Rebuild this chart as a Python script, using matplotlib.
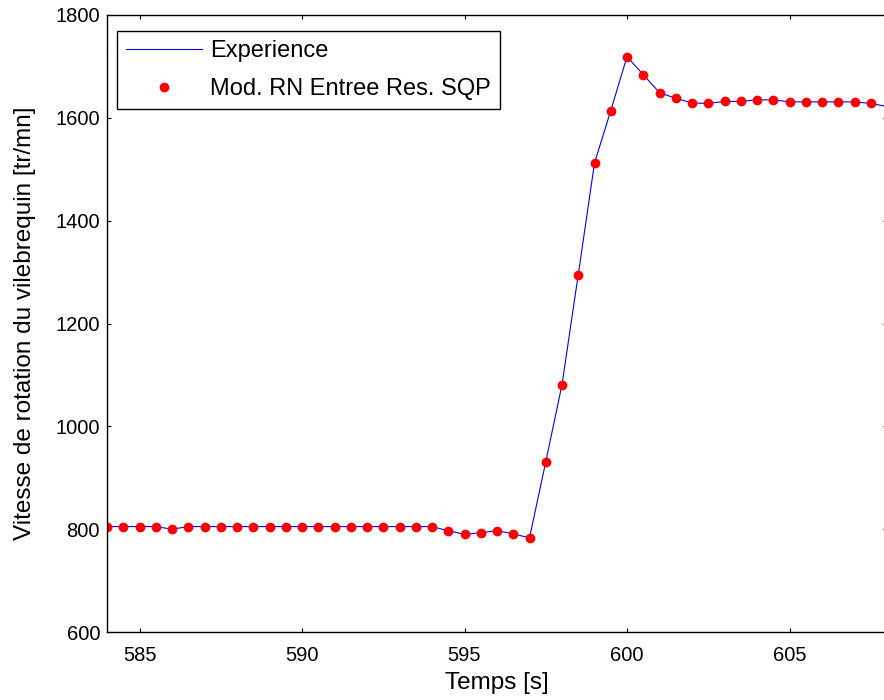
import matplotlib
matplotlib.use("Agg")
import matplotlib.pyplot as plt

plt.rcParams['font.family'] = ['Liberation Sans', 'DejaVu Sans']

# time axis [s], one sample every 0.5 s
temps = [584.0, 584.5, 585.0, 585.5, 586.0, 586.5, 587.0, 587.5, 588.0, 588.5,
         589.0, 589.5, 590.0, 590.5, 591.0, 591.5, 592.0, 592.5, 593.0, 593.5,
         594.0, 594.5, 595.0, 595.5, 596.0, 596.5, 597.0, 597.5, 598.0, 598.5,
         599.0, 599.5, 600.0, 600.5, 601.0, 601.5, 602.0, 602.5, 603.0, 603.5,
         604.0, 604.5, 605.0, 605.5, 606.0, 606.5, 607.0, 607.5]

# modele RN (points rouges)
vitesse_modele = [805, 805, 805, 805, 800, 805, 805, 805, 805, 805,
                  805, 805, 805, 805, 805, 805, 805, 805, 805, 805,
                  805, 797, 790, 793, 797, 791, 783, 931, 1081, 1295,
                  1512, 1614, 1719, 1684, 1649, 1638, 1629, 1628, 1632, 1632,
                  1635, 1635, 1631, 1631, 1631, 1631, 1631, 1628]

# experience (ligne bleue), one more sample past the axis edge
temps_exp = temps + [608.0]
vitesse_exp = vitesse_modele + [1622]

xticks = [585, 590, 595, 600, 605]
yticks = [600, 800, 1000, 1200, 1400, 1600, 1800]

fig = plt.figure(figsize=(8.84, 7.0), dpi=100)
ax = fig.add_axes([107 / 884, 68 / 700, 780 / 884, 617 / 700])

ax.plot(temps_exp, vitesse_exp, color='blue', lw=0.8, label='Experience')
ax.plot(temps, vitesse_modele, 'o', color='red', ms=6, mec='red',
        label='Mod. RN Entree Res. SQP')

ax.set_xlim(584, 608)
ax.set_ylim(600, 1800)
ax.set_xticks(xticks)
ax.set_yticks(yticks)
ax.tick_params(direction='in', length=3, width=0.8, labelsize=14.5,
               top=True, right=True)
ax.tick_params(axis='x', pad=10)
ax.tick_params(axis='y', pad=5)
for sp in ax.spines.values():
    sp.set_linewidth(1.0)

ax.set_xlabel('Temps [s]', fontsize=17.5, labelpad=5)
ax.set_ylabel('Vitesse de rotation du vilebrequin [tr/mn]', fontsize=17.5, labelpad=14)

leg = ax.legend(loc='upper left', bbox_to_anchor=(117 / 884, 1 - 31 / 700),
                bbox_transform=fig.transFigure, borderaxespad=0,
                fancybox=False, edgecolor='black', fontsize=17,
                handlelength=3.2, handletextpad=0.35, borderpad=0.4,
                labelspacing=0.65, framealpha=1)
leg.get_frame().set_linewidth(1.0)

fig.savefig('out.png', dpi=100)
